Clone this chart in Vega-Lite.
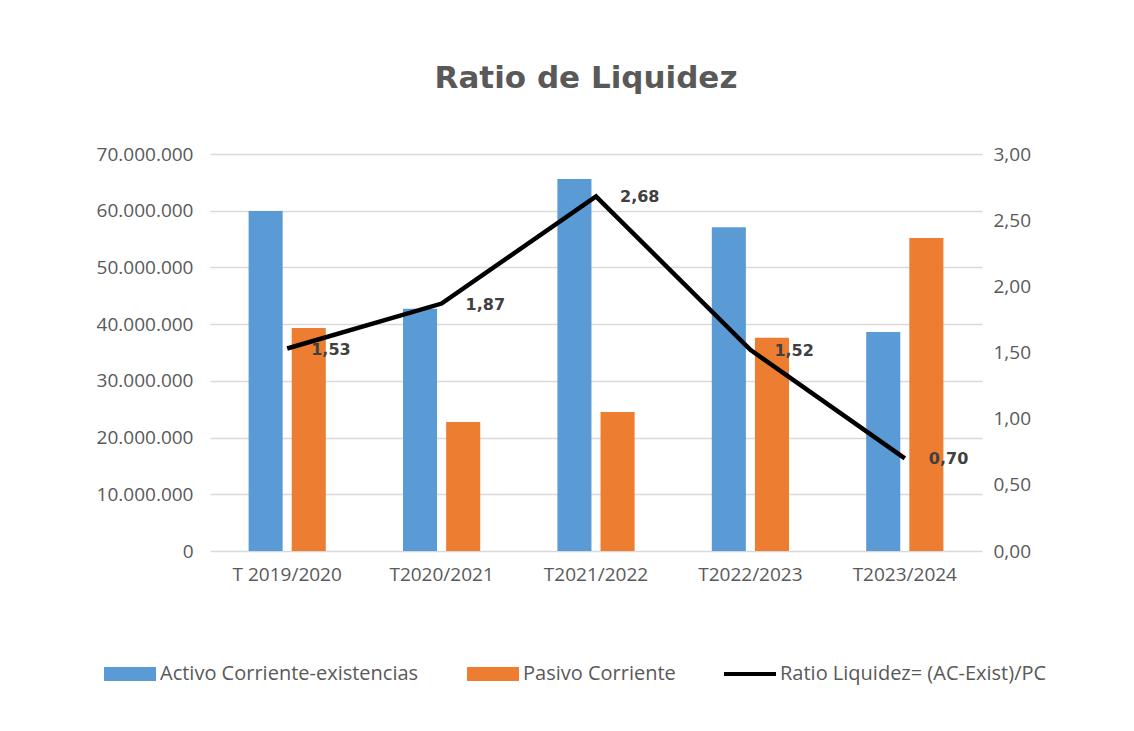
{
  "$schema": "https://vega.github.io/schema/vega-lite/v6.json",
  "width": 772,
  "height": 397,
  "autosize": {"type": "none"},
  "padding": {"left": 210, "top": 154, "right": 152, "bottom": 180},
  "background": "white",
  "config": {
    "locale": {"number": {"decimal": ",", "thousands": ".", "grouping": [3], "currency": ["", " €"]}},
    "view": {"stroke": null},
    "font": "Open Sans",
    "axis": {"labelFont": "Open Sans", "labelFontSize": 19, "labelColor": "#595959", "ticks": false, "domain": false, "title": null}
  },
  "title": {"text": "Ratio de Liquidez", "fontSize": 31, "font": "DejaVu Sans", "fontWeight": "bold", "color": "#595959", "offset": 50, "anchor": "middle", "dx": -10},
  "datasets": {
    "barras": [
      {"periodo": "T 2019/2020", "serie": "Activo Corriente-existencias", "valor": 59950000},
      {"periodo": "T 2019/2020", "serie": "Pasivo Corriente", "valor": 39300000},
      {"periodo": "T2020/2021", "serie": "Activo Corriente-existencias", "valor": 42700000},
      {"periodo": "T2020/2021", "serie": "Pasivo Corriente", "valor": 22750000},
      {"periodo": "T2021/2022", "serie": "Activo Corriente-existencias", "valor": 65600000},
      {"periodo": "T2021/2022", "serie": "Pasivo Corriente", "valor": 24500000},
      {"periodo": "T2022/2023", "serie": "Activo Corriente-existencias", "valor": 57100000},
      {"periodo": "T2022/2023", "serie": "Pasivo Corriente", "valor": 37600000},
      {"periodo": "T2023/2024", "serie": "Activo Corriente-existencias", "valor": 38600000},
      {"periodo": "T2023/2024", "serie": "Pasivo Corriente", "valor": 55200000}
    ],
    "ratio": [
      {"periodo": "T 2019/2020", "ratio": 1.53},
      {"periodo": "T2020/2021", "ratio": 1.87},
      {"periodo": "T2021/2022", "ratio": 2.68},
      {"periodo": "T2022/2023", "ratio": 1.52},
      {"periodo": "T2023/2024", "ratio": 0.70}
    ]
  },
  "layer": [
    {
      "data": {"name": "barras"},
      "mark": {"type": "bar"},
      "encoding": {
        "x": {"field": "periodo", "type": "nominal", "sort": null,
              "scale": {"paddingInner": 0.5, "paddingOuter": 0.25},
              "axis": {"labelAngle": 0, "labelPadding": 14, "grid": false}},
        "xOffset": {"field": "serie", "type": "nominal", "scale": {"paddingInner": 0.21}},
        "y": {"field": "valor", "type": "quantitative",
              "scale": {"domain": [0, 70000000], "nice": false},
              "axis": {"orient": "left", "format": ",.0f", "values": [0, 10000000, 20000000, 30000000, 40000000, 50000000, 60000000, 70000000],
                       "grid": true, "gridColor": "#d9d9d9", "gridWidth": 1.5, "labelPadding": 17}},
        "color": {"field": "serie", "type": "nominal",
                  "scale": {"domain": ["Activo Corriente-existencias", "Pasivo Corriente", "Ratio Liquidez= (AC-Exist)/PC"],
                            "range": ["#5B9BD5", "#ED7D31", "#000000"]},
                  "legend": {"orient": "none", "legendX": -106, "legendY": 494, "direction": "horizontal", "title": null,
                             "symbolSize": 2704, "symbolStrokeWidth": 0, "labelFont": "Open Sans", "labelFontSize": 20, "labelColor": "#595959",
                             "labelOffset": 4, "columnPadding": 48, "labelLimit": 0,
                             "encode": {"symbols": {"update": {"shape": {"signal": "datum.value === 'Ratio Liquidez= (AC-Exist)/PC' ? 'M-1,-0.08H1V0.08H-1Z' : 'M-1,-0.27H1V0.27H-1Z'"}}}}}}
      }
    },
    {
      "data": {"name": "ratio"},
      "layer": [
        {
          "mark": {"type": "line", "strokeWidth": 4.5},
          "encoding": {
            "x": {"field": "periodo", "type": "nominal", "sort": null},
            "y": {"field": "ratio", "type": "quantitative",
                  "scale": {"domain": [0, 3], "nice": false},
                  "axis": {"orient": "right", "format": ".2f", "values": [0, 0.5, 1, 1.5, 2, 2.5, 3], "grid": false, "labelPadding": 11}},
            "color": {"datum": "Ratio Liquidez= (AC-Exist)/PC"}
          }
        },
        {
          "mark": {"type": "text", "align": "left", "baseline": "middle", "dx": 24, "dy": 1, "fontWeight": "bold", "fontSize": 16, "font": "DejaVu Sans", "color": "#404040"},
          "encoding": {
            "x": {"field": "periodo", "type": "nominal", "sort": null},
            "y": {"field": "ratio", "type": "quantitative"},
            "text": {"field": "ratio", "type": "quantitative", "format": ".2f"}
          }
        }
      ]
    }
  ],
  "resolve": {"scale": {"y": "independent"}}
}
